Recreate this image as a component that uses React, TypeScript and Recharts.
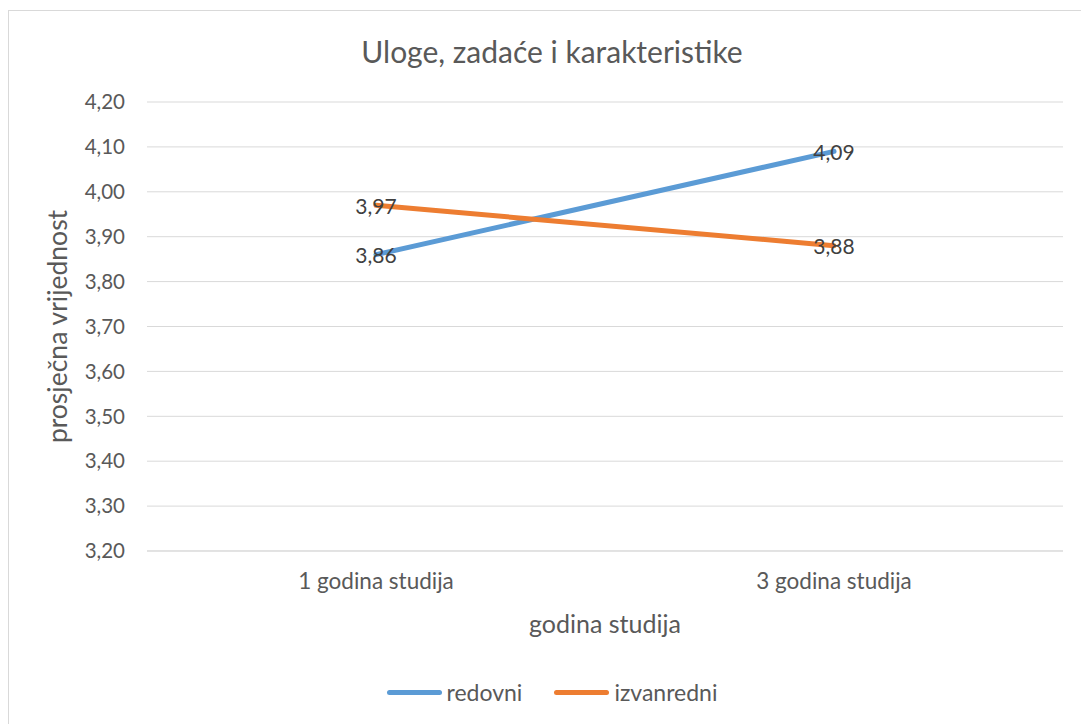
import React from 'react';
import { LineChart, Line, XAxis, YAxis, CartesianGrid, Label } from 'recharts';

const categories = ['1 godina studija', '3 godina studija'];
const redovni = [3.86, 4.09];
const izvanredni = [3.97, 3.88];
const yTicks = [3.2, 3.3, 3.4, 3.5, 3.6, 3.7, 3.8, 3.9, 4.0, 4.1, 4.2];

const series = [
  { key: 'redovni', name: 'redovni', color: '#5B9BD5' },
  { key: 'izvanredni', name: 'izvanredni', color: '#ED7D31' },
];

const data = categories.map((c, i) => ({
  category: c,
  redovni: redovni[i],
  izvanredni: izvanredni[i],
}));

const FONT = 'Lato, "Open Sans", sans-serif';
const fmt = (v: number) => v.toFixed(2).replace('.', ',');

const renderValue = (props: any) => {
  const { x, y, value, index } = props;
  return (
    <text
      key={index}
      x={x}
      y={y}
      textAnchor="middle"
      dominantBaseline="central"
      fill="#404040"
      fontSize={21}
      fontFamily={FONT}
    >
      {fmt(value)}
    </text>
  );
};

const App = () => {
  return (
    <div style={{ position: 'absolute', left: 0, top: 0, width: 1081, height: 724, background: '#fff', fontFamily: FONT }}>
      {/* chart frame */}
      <div
        style={{
          position: 'absolute',
          left: 8,
          top: 10,
          width: 1073,
          height: 714,
          borderLeft: '1px solid #d9d9d9',
          borderTop: '1px solid #d9d9d9',
        }}
      />
      <div
        style={{
          position: 'absolute',
          left: 0,
          top: 33,
          width: 1104,
          textAlign: 'center',
          fontSize: 30,
          color: '#595959',
        }}
      >
        Uloge, zadaće i karakteristike
      </div>
      <div style={{ position: 'absolute', left: 0, top: 0 }}>
        <LineChart width={1081} height={724} data={data} margin={{ top: 102, right: 18, bottom: 113, left: 0 }}>
          <CartesianGrid vertical={false} stroke="#d9d9d9" strokeWidth={1} />
          <XAxis
            dataKey="category"
            scale="band"
            height={60}
            tickLine={false}
            axisLine={{ stroke: '#d9d9d9' }}
            tickSize={0}
            tickMargin={22}
            tick={{ fill: '#595959', fontSize: 22.5, fontFamily: FONT }}
          >
            <Label
              value="godina studija"
              position="insideBottom"
              offset={-22}
              fill="#595959"
              fontSize={25}
              fontFamily={FONT}
            />
          </XAxis>
          <YAxis
            width={147}
            domain={[3.2, 4.2]}
            ticks={yTicks}
            interval={0}
            tickFormatter={fmt}
            tickLine={false}
            axisLine={false}
            tickSize={0}
            tickMargin={22}
            tick={{ fill: '#595959', fontSize: 20.5, fontFamily: FONT }}
          >
            <Label
              value="prosječna vrijednost"
              angle={-90}
              position="insideLeft"
              offset={58}
              fill="#595959"
              fontSize={26.5}
              fontFamily={FONT}
              style={{ textAnchor: 'middle' }}
            />
          </YAxis>
          {series.map((s) => (
            <Line
              key={s.key}
              type="linear"
              dataKey={s.key}
              name={s.name}
              stroke={s.color}
              strokeWidth={5}
              strokeLinecap="round"
              dot={false}
              activeDot={false}
              label={renderValue}
              isAnimationActive={false}
            />
          ))}
        </LineChart>
      </div>
      {/* legend */}
      <div
        style={{
          position: 'absolute',
          left: 0,
          top: 678,
          width: 1104,
          display: 'flex',
          justifyContent: 'center',
          gap: 32,
          fontSize: 23,
          color: '#595959',
        }}
      >
        {series.map((s) => (
          <div key={s.key} style={{ display: 'flex', alignItems: 'center', gap: 5 }}>
            <div style={{ width: 55, height: 5, borderRadius: 3, background: s.color }} />
            <span>{s.name}</span>
          </div>
        ))}
      </div>
    </div>
  );
};

export default App;
